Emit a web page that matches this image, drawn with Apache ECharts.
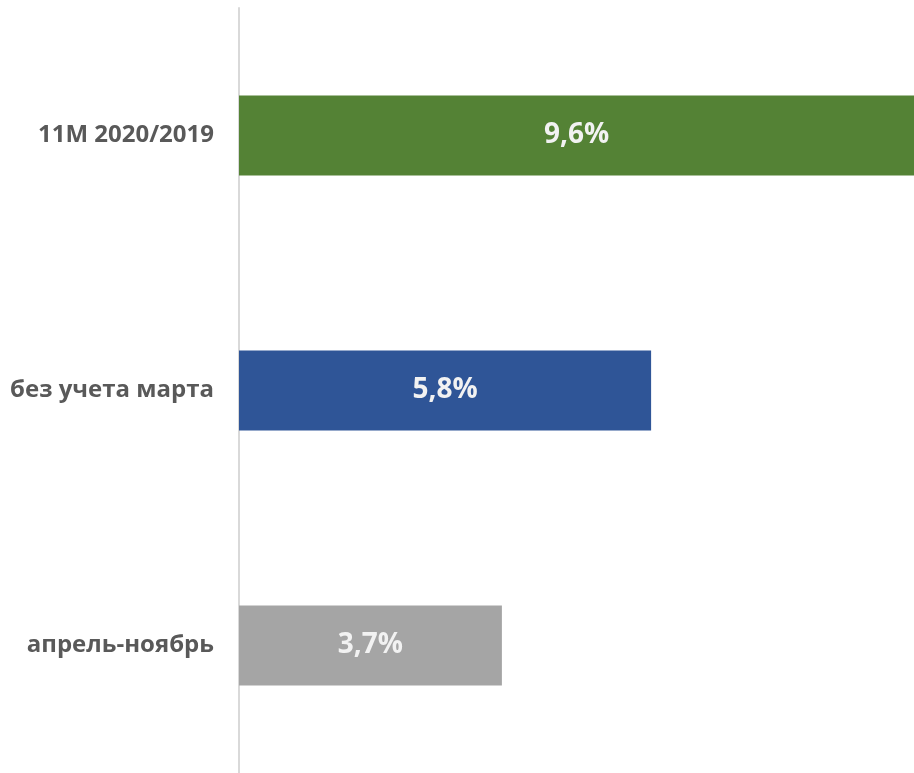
<!DOCTYPE html>
<html>
<head>
<meta charset="utf-8">
<script src="https://cdn.jsdelivr.net/npm/echarts@6/dist/echarts.min.js"></script>
<style>
  html, body { margin: 0; padding: 0; background: #fff; }
  #main { width: 914px; height: 773px; }
</style>
</head>
<body>
<div id="main"></div>
<script>
// данные
var categories = ['11M 2020/2019', 'без учета марта', 'апрель-ноябрь'];
var values = [9.6, 5.8, 3.7];
var colors = ['#548235', '#2F5597', '#A5A5A5'];

var chart = echarts.init(document.getElementById('main'));
var option = {
    animation: false,
    grid: { left: 239, right: 0, top: 8, bottom: 0 },
    xAxis: {
        type: 'value',
        min: 0,
        max: 9.5,
        show: false
    },
    yAxis: {
        type: 'category',
        inverse: true,
        data: categories,
        axisLine: { show: true, lineStyle: { color: '#d9d9d9', width: 2 } },
        axisTick: { show: false },
        axisLabel: {
            margin: 25,
            color: '#595959',
            fontSize: 24,
            fontWeight: 'bold',
            fontFamily: 'Open Sans'
        }
    },
    series: [{
        type: 'bar',
        barWidth: 80,
        data: values.map(function (v, i) {
            return { value: v, itemStyle: { color: colors[i] } };
        }),
        label: {
            show: true,
            position: 'inside',
            color: '#f2f2f2',
            fontSize: 28,
            fontWeight: 'bold',
            fontFamily: 'Open Sans',
            formatter: function (p) {
                return p.value.toFixed(1).replace('.', ',') + '%';
            }
        }
    }]
};
chart.setOption(option);
</script>
</body>
</html>
